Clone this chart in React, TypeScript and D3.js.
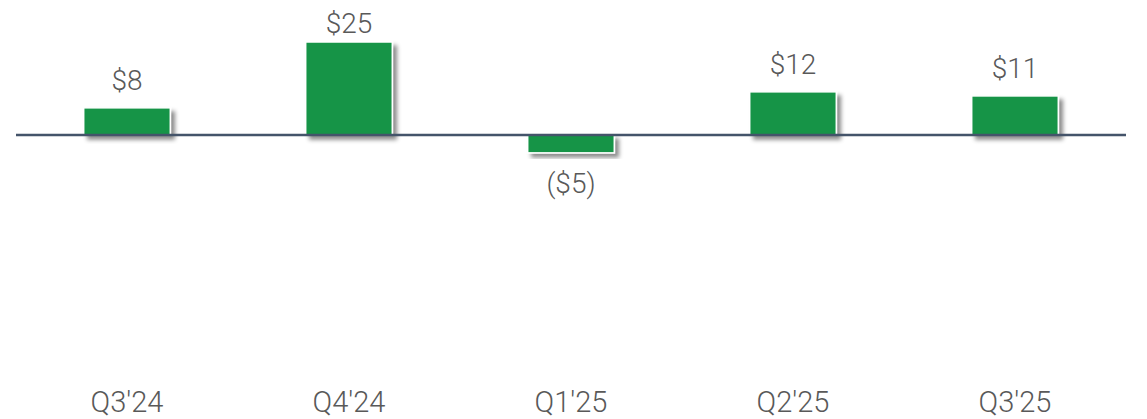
import React from "react";
import * as d3 from "d3";

const categories = ["Q3'24", "Q4'24", "Q1'25", "Q2'25", "Q3'25"];
const values = [7.3, 25.0, -4.8, 11.6, 10.5];
const valueLabels = ["$8", "$25", "($5)", "$12", "$11"];

const W = 1147;
const H = 419;

export default function App() {
  const x = d3.scaleBand<string>().domain(categories).range([16, 1126]).paddingInner(0.61).paddingOuter(0.305);
  const y = d3.scaleLinear().domain([-25, 25]).range([228, 42]);
  const y0 = y(0);
  const font = "Roboto, 'Noto Sans', sans-serif";
  return (
    <svg width={W} height={H} style={{ position: "absolute", left: 0, top: 0, background: "#fff" }}>
      <defs>
        <filter id="shadow" x="-20%" y="-20%" width="150%" height="150%">
          <feDropShadow dx="4" dy="4" stdDeviation="2.2" floodColor="#000" floodOpacity="0.45" />
        </filter>
      </defs>
      {categories.map((c, i) => {
        const v = values[i];
        const top = v >= 0 ? y(v) : y0;
        const h = Math.abs(y(v) - y0);
        return (
          <rect key={c} x={x(c)} y={top} width={x.bandwidth()} height={h}
            fill="#169447" stroke="#fff" strokeWidth={1.5} filter="url(#shadow)" />
        );
      })}
      <line x1={16} x2={1126} y1={y0} y2={y0} stroke="#44546a" strokeWidth={2.5} />
      {categories.map((c, i) => {
        const v = values[i];
        const cx = (x(c) as number) + x.bandwidth() / 2;
        const ly = v >= 0 ? Math.max(y(v) - 18, 33) : y(v) + 40;
        return (
          <text key={c} x={cx} y={ly} textAnchor="middle" fontFamily={font} fontWeight={300}
            fontSize={28} fill="#595959">{valueLabels[i]}</text>
        );
      })}
      {categories.map((c) => (
        <text key={c} x={(x(c) as number) + x.bandwidth() / 2} y={412} textAnchor="middle"
          fontFamily={font} fontWeight={300} fontSize={29} fill="#595959">{c}</text>
      ))}
    </svg>
  );
}
